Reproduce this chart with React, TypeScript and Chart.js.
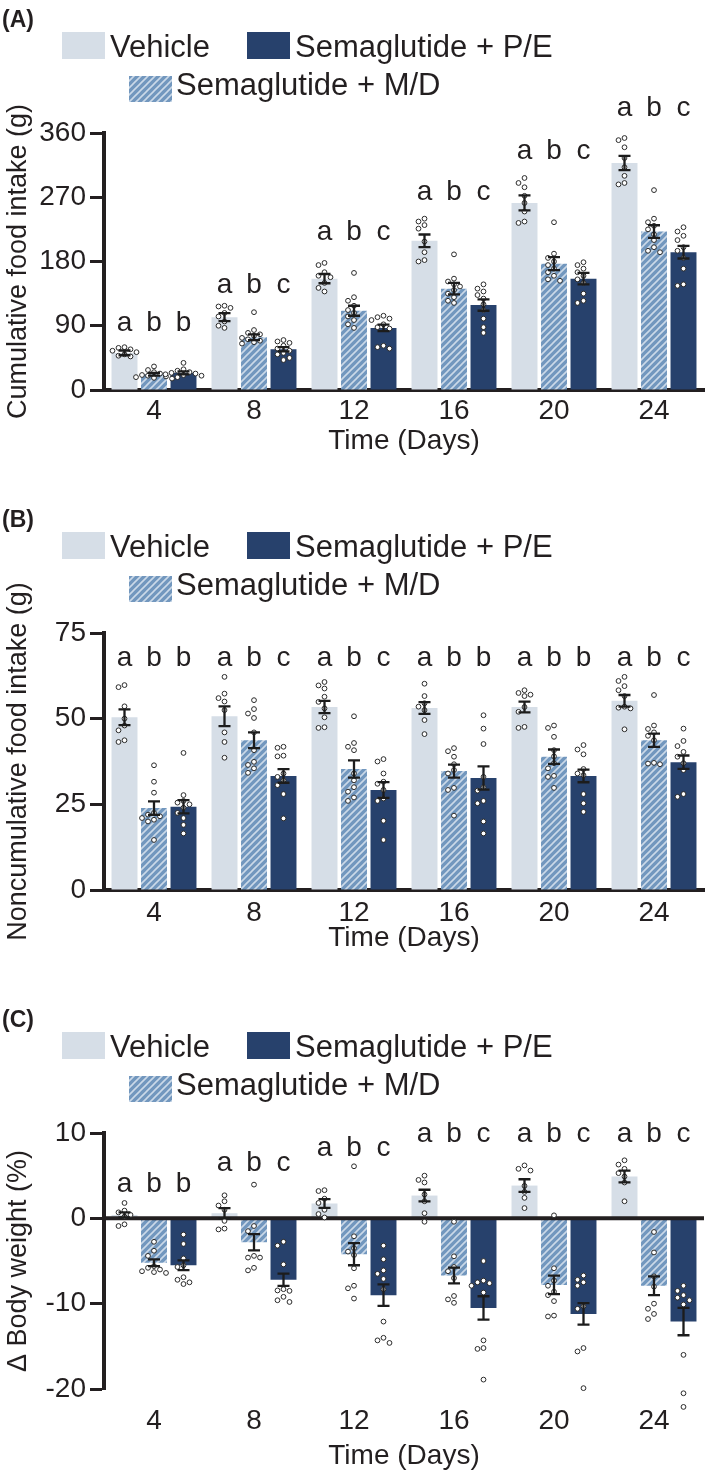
import { useEffect, useRef } from 'react';
import { Chart, registerables } from 'chart.js';

Chart.register(...registerables);

const FONT = "'Liberation Sans', Arial, sans-serif";
const INK = '#231f20';
const VEH_COLOR = '#d6dee7';
const PE_COLOR = '#27416c';

const days = ['4', '8', '12', '16', '20', '24'];

// (A) cumulative food intake (g)
const cumVehicle = [52, 102, 156, 209, 262, 318];
const cumMD = [22, 74, 111, 142, 177, 222];
const cumPE = [24, 57, 87, 119, 156, 193];
const cumVehicleSem = [3.3, 5.6, 6.5, 8.8, 10.5, 10];
const cumMDSem = [2, 4, 7, 8, 9, 8.8];
const cumPESem = [2, 3, 4.6, 8, 8, 8.8];
const cumVehiclePts = [
  [60, 59, 57, 55, 53, 50, 48, 47],
  [118, 117, 115, 108, 103, 96, 90, 87],
  [178, 175, 165, 160, 158, 150, 143, 138],
  [240, 236, 231, 226, 208, 193, 182, 180],
  [297, 290, 284, 272, 262, 250, 236, 234],
  [353, 350, 340, 325, 312, 300, 290, 288],
];
const cumMDPts = [
  [33, 28, 25, 23, 21, 20, 19, 18, 17, 16],
  [109, 84, 80, 78, 76, 73, 71, 69, 67, 65],
  [164, 130, 125, 118, 112, 108, 103, 98, 92, 87],
  [190, 156, 152, 148, 145, 140, 135, 130, 125, 122],
  [235, 191, 185, 180, 175, 170, 165, 160, 155, 153],
  [280, 240, 235, 230, 225, 218, 210, 200, 195, 193],
];
const cumPEPts = [
  [38, 29, 27, 25, 24, 23, 22, 21, 20, 18],
  [70, 68, 66, 62, 58, 55, 52, 50, 45, 42],
  [104, 102, 100, 98, 92, 88, 86, 62, 60, 58],
  [148, 142, 138, 133, 128, 120, 112, 100, 88, 80],
  [179, 175, 170, 165, 160, 155, 150, 135, 125, 122],
  [228, 222, 216, 210, 200, 195, 185, 170, 148, 146],
];
const cumLetters = ['abb', 'abc', 'abc', 'abc', 'abc', 'abc'];
const cumLetterAt = [93, 146, 221, 277, 335, 395];

// (B) noncumulative food intake (g)
const nonVehicle = [50.4, 50.7, 53.4, 53.1, 53.4, 55.2];
const nonMD = [23.9, 43.7, 35.3, 34.7, 38.9, 43.7];
const nonPE = [24.3, 33.3, 29.2, 32.7, 33.3, 37.3];
const nonVehicleSem = [2.3, 2.9, 1.8, 1.7, 1.55, 1.7];
const nonMDSem = [1.95, 2.3, 2.5, 1.9, 2.1, 1.95];
const nonPESem = [1.95, 2, 2.3, 3.4, 1.85, 1.95];
const nonVehiclePts = [
  [59.8, 59.2, 53.6, 50, 48, 46.6, 43.7, 43.2],
  [62.2, 57.3, 56, 55, 52.5, 46, 43.2, 38.6],
  [60.7, 59.7, 58.8, 56.4, 54.9, 53, 50.4, 47.5, 47.3],
  [60.2, 56.6, 54.5, 53.5, 52.5, 49.6, 45.5],
  [58.3, 57.5, 57, 56.6, 53.4, 52, 47.6, 47.3],
  [62.2, 61, 59.5, 58.3, 56.6, 53.5, 53.2, 53, 46.9],
];
const nonMDPts = [
  [36.4, 31.6, 28.4, 22.5, 22, 21.5, 21, 20.5, 20, 14.6],
  [55.4, 52.8, 51.5, 50.2, 46, 40.8, 37.4, 36.5, 35.5, 34.2],
  [50.7, 42.9, 41.8, 40.8, 34, 32, 30, 28.7, 27, 26],
  [41.4, 40.5, 38.9, 36.7, 35, 34, 29.8, 29.2, 21.7],
  [48, 47.3, 44.7, 40.8, 39, 37, 35.5, 33.3, 33, 29.8],
  [56.9, 48, 47, 46, 45, 43.7, 37.1, 36.9, 36.7],
];
const nonPEPts = [
  [40, 27.7, 26, 25.5, 25, 24, 22.5, 21, 19, 16.5],
  [41.8, 41.5, 39.2, 39, 34, 33, 32, 30.6, 28, 20.9],
  [38.2, 37.5, 34, 31.6, 31, 29.2, 26.7, 26, 20.2, 14.6],
  [51, 47.1, 42.6, 33, 30, 29, 26, 25.3, 20, 16.5],
  [42.3, 41, 39.6, 35.3, 34, 33.5, 28, 25.3, 22.8],
  [47.1, 43.5, 42, 40.3, 38.9, 37, 35, 28, 27.2],
];
const nonLetters = ['abb', 'abc', 'abc', 'abb', 'abb', 'abc'];
const nonLetterAt = [67.5, 67.5, 67.5, 67.5, 67.5, 67.5];

// (C) change in body weight (%)
const bwVehicle = [0.4, 0.6, 1.74, 2.67, 3.84, 4.9];
const bwMD = [-5.2, -2.8, -4.2, -6.7, -7.8, -7.9];
const bwPE = [-5.5, -7.2, -9.0, -10.5, -11.2, -12.1];
const bwVehicleSem = [0.3, 0.6, 0.52, 0.68, 0.74, 0.68];
const bwMDSem = [0.4, 0.95, 1.3, 0.93, 1.09, 1.09];
const bwPESem = [0.58, 0.72, 1.26, 1.37, 1.26, 1.6];
const bwVehiclePts = [
  [1.8, 0.9, 0.7, 0.4, 0.2, -0.7, -0.9],
  [2.7, 2, 1.5, 1, -0.3, -1.2, -1.3],
  [3.3, 3.2, 2.3, 1.8, 1.0, 0.5, 0.1],
  [5, 4.5, 4.2, 2.8, 2, 0.6, -0.4],
  [6.2, 5.8, 5.6, 3.8, 3.1, 2.4, 1.2],
  [6.8, 6.3, 5.8, 5.3, 4.9, 4.2, 2.0],
];
const bwMDPts = [
  [-2.75, -3.8, -4.4, -5.6, -5.8, -6, -6.2, -6.4, -6.3],
  [3.95, -0.9, -1.5, -4.4, -4.6, -4.6, -5.8, -6.1],
  [6.1, -2.1, -3.5, -3.9, -4.3, -5.85, -7.9, -8.2, -9.4],
  [-0.4, -4.45, -5.7, -6.2, -7.0, -9.1, -9.5, -9.9],
  [0.35, -5.85, -7.3, -7.9, -8.6, -9.0, -9.7, -11.4, -11.5],
  [-1.6, -4, -6.8, -8.0, -10, -10.6, -11.2, -11.8],
];
const bwPEPts = [
  [-1.9, -3, -4.7, -5.5, -5.7, -6.9, -7.2, -7.5, -7.7],
  [-2.75, -3.2, -5.4, -8.3, -8.45, -8.5, -9.2, -9.6, -9.8],
  [-3.2, -4.8, -6.1, -6.5, -7.1, -8.3, -12.1, -14, -14.3, -14.6],
  [-5, -7.3, -7.5, -7.6, -7.9, -8.7, -14.3, -15.2, -15.3, -18.9],
  [-6.7, -7.2, -7.5, -7.9, -10.3, -10.6, -15.2, -15.6, -19.9],
  [-7.9, -8.5, -9, -9.3, -9.6, -10.1, -16, -20.5, -22.1],
];
const bwLetters = ['abb', 'abc', 'abc', 'abc', 'abc', 'abc'];
const bwLetterAt = [4.0, 6.5, 8.2, 9.8, 9.8, 9.8];

type PanelDef = {
  tag: string;
  yTitle: string;
  height: number;
  yMin: number;
  yMax: number;
  yStep: number;
  means: number[][];
  sems: number[][];
  points: number[][][];
  letters: string[];
  letterAt: number[];
  zeroLine: boolean;
  xTickPad: number;
  xTitlePad: number;
};

const panels: PanelDef[] = [
  {
    tag: '(A)', yTitle: 'Cumulative food intake (g)', height: 500,
    yMin: 0, yMax: 360, yStep: 90,
    means: [cumVehicle, cumMD, cumPE],
    sems: [cumVehicleSem, cumMDSem, cumPESem],
    points: [cumVehiclePts, cumMDPts, cumPEPts],
    letters: cumLetters, letterAt: cumLetterAt,
    zeroLine: false, xTickPad: 4, xTitlePad: 42,
  },
  {
    tag: '(B)', yTitle: 'Noncumulative food intake (g)', height: 500,
    yMin: 0, yMax: 75, yStep: 25,
    means: [nonVehicle, nonMD, nonPE],
    sems: [nonVehicleSem, nonMDSem, nonPESem],
    points: [nonVehiclePts, nonMDPts, nonPEPts],
    letters: nonLetters, letterAt: nonLetterAt,
    zeroLine: false, xTickPad: 6, xTitlePad: 45,
  },
  {
    tag: '(C)', yTitle: 'Δ Body weight (%)', height: 475,
    yMin: -20, yMax: 10, yStep: 10,
    means: [bwVehicle, bwMD, bwPE],
    sems: [bwVehicleSem, bwMDSem, bwPESem],
    points: [bwVehiclePts, bwMDPts, bwPEPts],
    letters: bwLetters, letterAt: bwLetterAt,
    zeroLine: true, xTickPad: 15, xTitlePad: 2,
  },
];

function makeHatch(): CanvasPattern {
  const s = 7;
  const c = document.createElement('canvas');
  c.width = s;
  c.height = s;
  const g = c.getContext('2d')!;
  g.fillStyle = '#7297be';
  g.fillRect(0, 0, s, s);
  g.strokeStyle = '#cbd9e8';
  g.lineWidth = 1.6;
  g.beginPath();
  g.moveTo(-1, s + 1);
  g.lineTo(s + 1, -1);
  g.moveTo(-1, 1);
  g.lineTo(1, -1);
  g.moveTo(s - 1, s + 1);
  g.lineTo(s + 1, s - 1);
  g.stroke();
  return g.createPattern(c, 'repeat')!;
}

function Panel({ def }: { def: PanelDef }) {
  const canvasRef = useRef<HTMLCanvasElement>(null);

  useEffect(() => {
    if (!canvasRef.current) return;
    const hatch = makeHatch();

    const overlay = {
      id: 'overlay',
      afterDatasetsDraw(chart: any) {
        const ctx: CanvasRenderingContext2D = chart.ctx;
        const y = chart.scales.y;
        const area = chart.chartArea;
        ctx.save();

        if (def.zeroLine) {
          const y0 = y.getPixelForValue(0);
          ctx.strokeStyle = INK;
          ctx.lineWidth = 4;
          ctx.beginPath();
          ctx.moveTo(area.left, y0);
          ctx.lineTo(area.right, y0);
          ctx.stroke();
        }

        for (let d = 0; d < 3; d++) {
          const meta = chart.getDatasetMeta(d);
          meta.data.forEach((bar: any, i: number) => {
            const bx = bar.x;
            // individual animals, spread sideways where they overlap
            const placed: number[][] = [];
            const vals = [...def.points[d][i]].sort((a, b) => b - a);
            for (const v of vals) {
              const py = y.getPixelForValue(v);
              let px = bx;
              for (const off of [0, -6, 6, -12, 12, -18, 18]) {
                if (placed.every(([qx, qy]) => Math.hypot(qx - (bx + off), qy - py) >= 5.6)) {
                  px = bx + off;
                  break;
                }
              }
              placed.push([px, py]);
              ctx.beginPath();
              ctx.arc(px, py, 2.4, 0, Math.PI * 2);
              ctx.fillStyle = '#ffffff';
              ctx.fill();
              ctx.lineWidth = 1;
              ctx.strokeStyle = '#2a2a2a';
              ctx.stroke();
            }
            // mean ± SEM
            const m = def.means[d][i];
            const s = def.sems[d][i];
            const yt = y.getPixelForValue(m + s);
            const yb = y.getPixelForValue(m - s);
            ctx.strokeStyle = '#1c1c1c';
            ctx.lineWidth = 2.3;
            ctx.beginPath();
            ctx.moveTo(bx, yt);
            ctx.lineTo(bx, yb);
            ctx.moveTo(bx - 6, yt);
            ctx.lineTo(bx + 6, yt);
            ctx.moveTo(bx - 6, yb);
            ctx.lineTo(bx + 6, yb);
            ctx.stroke();
          });
        }

        // significance letters
        ctx.fillStyle = INK;
        ctx.font = `28px ${FONT}`;
        ctx.textAlign = 'center';
        ctx.textBaseline = 'middle';
        for (let i = 0; i < days.length; i++) {
          const ly = y.getPixelForValue(def.letterAt[i]);
          for (let d = 0; d < 3; d++) {
            const bar = chart.getDatasetMeta(d).data[i];
            ctx.fillText(def.letters[i][d], bar.x, ly);
          }
        }
        ctx.restore();
      },
      afterDraw(chart: any) {
        const ctx: CanvasRenderingContext2D = chart.ctx;
        ctx.save();
        ctx.fillStyle = INK;
        ctx.textAlign = 'left';
        ctx.textBaseline = 'alphabetic';
        ctx.font = `bold 23px ${FONT}`;
        ctx.fillText(def.tag, 2, 27);

        ctx.fillStyle = VEH_COLOR;
        ctx.fillRect(62, 32, 43, 27);
        ctx.fillStyle = PE_COLOR;
        ctx.fillRect(247, 32, 43, 27);
        ctx.fillStyle = hatch;
        ctx.fillRect(129, 76, 43, 26);

        ctx.fillStyle = INK;
        ctx.font = `31px ${FONT}`;
        ctx.fillText('Vehicle', 110, 57);
        ctx.fillText('Semaglutide + P/E', 295, 57);
        ctx.fillText('Semaglutide + M/D', 176, 95);
        ctx.restore();
      },
    };

    const chartBottom = 390;
    const chart = new Chart(canvasRef.current, {
      type: 'bar',
      data: {
        labels: days,
        datasets: [
          { label: 'Vehicle', data: def.means[0], backgroundColor: VEH_COLOR },
          { label: 'Semaglutide + M/D', data: def.means[1], backgroundColor: hatch as any },
          { label: 'Semaglutide + P/E', data: def.means[2], backgroundColor: PE_COLOR },
        ],
      },
      options: {
        responsive: false,
        animation: false,
        events: [],
        layout: { padding: { top: 133, left: 0, right: 5, bottom: 0 } },
        datasets: { bar: { categoryPercentage: 0.885, barPercentage: 0.88, borderWidth: 0 } },
        plugins: { legend: { display: false }, tooltip: { enabled: false } },
        scales: {
          x: {
            grid: { display: false, drawTicks: false },
            border: { display: !def.zeroLine, width: 4, color: INK },
            ticks: {
              color: INK, padding: def.xTickPad, autoSkip: false, maxRotation: 0,
              font: { family: FONT, size: 28 },
            },
            title: {
              display: true, text: 'Time (Days)', color: INK,
              font: { family: FONT, size: 28 },
              padding: { top: 0, bottom: def.xTitlePad },
            },
            afterFit: (s: any) => { s.height = def.height - chartBottom - (def.zeroLine ? -1 : 0); },
          },
          y: {
            min: def.yMin,
            max: def.yMax,
            grid: {
              drawOnChartArea: false, drawTicks: true, tickLength: 14,
              tickColor: INK, tickWidth: 3,
            },
            border: { display: true, width: 4, color: INK },
            ticks: {
              stepSize: def.yStep, color: INK, padding: 4,
              font: { family: FONT, size: 28 },
            },
            title: {
              display: true, text: def.yTitle, color: INK,
              font: { family: FONT, size: 27 },
              padding: { top: 2, bottom: 0 },
            },
            afterFit: (s: any) => { s.width = 104; },
          },
        },
      },
      plugins: [overlay],
    });

    return () => chart.destroy();
  }, [def]);

  return (
    <canvas
      ref={canvasRef}
      width={709}
      height={def.height}
      style={{ display: 'block', width: 709, height: def.height }}
    />
  );
}

export default function App() {
  return (
    <div style={{ position: 'absolute', left: 0, top: 0, width: 709, height: 1475, background: '#ffffff' }}>
      {panels.map((p) => (
        <Panel key={p.tag} def={p} />
      ))}
    </div>
  );
}
